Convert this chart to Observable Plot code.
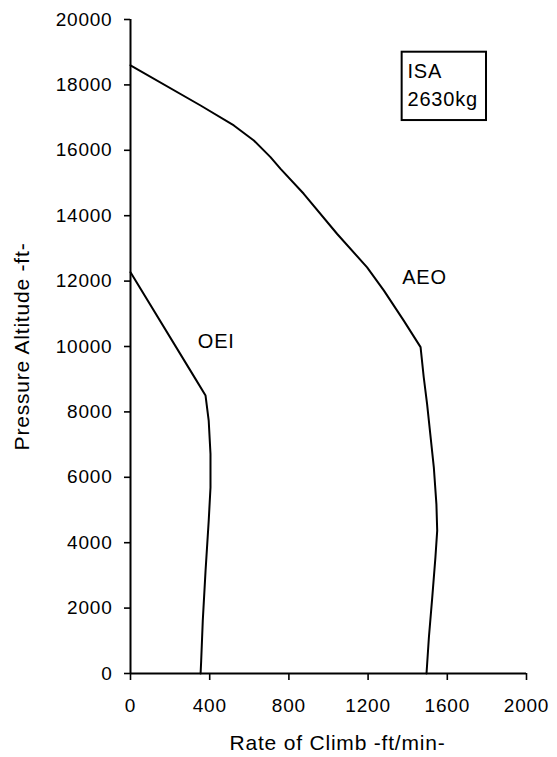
<!DOCTYPE html>
<html>
<head>
<meta charset="utf-8">
<script src="https://cdn.jsdelivr.net/npm/d3@7"></script>
<script src="https://cdn.jsdelivr.net/npm/@observablehq/plot@0.6"></script>
<style>
  html, body { margin: 0; padding: 0; background: #fff; }
  #chart svg text { letter-spacing: 0.8px; }
</style>
</head>
<body>
<div id="chart"></div>
<script>
// Rate of climb (ft/min) against pressure altitude (ft), all engines operating
const aeoRoc = [0, 354, 522, 623, 707, 758, 875, 1044, 1195, 1280, 1380, 1465, 1481, 1498, 1532, 1545, 1549, 1540, 1524, 1507, 1495];
const aeoAlt = [18600, 17370, 16760, 16300, 15790, 15430, 14670, 13440, 12420, 11710, 10790, 9980, 9060, 8240, 6300, 5180, 4370, 3550, 2330, 1100, 0];

// One engine inoperative
const oeiRoc = [0, 328, 379, 395, 404, 404, 395, 379, 365, 357, 354];
const oeiAlt = [12270, 9010, 8500, 7730, 6710, 5690, 4670, 3140, 1610, 390, 0];

// Axis ticks
const xTicks = [0, 400, 800, 1200, 1600, 2000];
const yTicks = [0, 2000, 4000, 6000, 8000, 10000, 12000, 14000, 16000, 18000, 20000];

// Axis titles
const xTitle = "Rate of Climb -ft/min-";
const yTitle = "Pressure Altitude -ft-";

// Curve labels
const curveLabels = ["OEI", "AEO"];
const curveLabelRoc = [433, 1485];
const curveLabelAlt = [10155, 12107];

// Conditions box
const boxLines = ["ISA", "2630kg"];
const boxLineRoc = [1399, 1399];
const boxLineAlt = [18410, 17550];
const boxRoc = [1372, 1798];
const boxAlt = [16910, 19000];

const aeo = aeoRoc.map((r, i) => ({roc: r, alt: aeoAlt[i]}));
const oei = oeiRoc.map((r, i) => ({roc: r, alt: oeiAlt[i]}));
const labels = curveLabels.map((t, i) => ({text: t, roc: curveLabelRoc[i], alt: curveLabelAlt[i]}));
const box = [{x1: boxRoc[0], x2: boxRoc[1], y1: boxAlt[0], y2: boxAlt[1]}];
const boxText = boxLines.map((t, i) => ({text: t, roc: boxLineRoc[i], alt: boxLineAlt[i]}));

const plain = d3.format("d");

const chart = Plot.plot({
  width: 557,
  height: 757,
  marginLeft: 130,
  marginRight: 31,
  marginTop: 19,
  marginBottom: 84,
  style: {fontFamily: "'Liberation Sans', Arial, sans-serif", color: "#000", background: "#fff"},
  x: {domain: [0, 2000]},
  y: {domain: [0, 20000]},
  marks: [
    Plot.axisX(xTicks, {tickSize: 7, tickPadding: 18, fontSize: 19, strokeWidth: 1.6, tickFormat: plain, label: null}),
    Plot.axisY(yTicks, {tickSize: 6, tickPadding: 12, fontSize: 19, strokeWidth: 1.6, tickFormat: plain, label: null}),
    Plot.ruleX([0], {strokeWidth: 2}),
    Plot.ruleY([0], {strokeWidth: 2}),
    Plot.line(aeo, {x: "roc", y: "alt", stroke: "#000", strokeWidth: 2, strokeLinejoin: "round"}),
    Plot.line(oei, {x: "roc", y: "alt", stroke: "#000", strokeWidth: 2, strokeLinejoin: "round"}),
    Plot.text(labels, {x: "roc", y: "alt", text: "text", fontSize: 20, fill: "#000"}),
    Plot.rect(box, {x1: "x1", x2: "x2", y1: "y1", y2: "y2", fill: "#fff", stroke: "#000", strokeWidth: 2}),
    Plot.text(boxText, {x: "roc", y: "alt", text: "text", textAnchor: "start", fontSize: 20, fill: "#000"}),
    Plot.text([xTitle], {frameAnchor: "bottom", textAnchor: "middle", lineAnchor: "middle", dx: 9, dy: 70, fontSize: 21, fill: "#000"}),
    Plot.text([yTitle], {frameAnchor: "left", textAnchor: "middle", lineAnchor: "middle", dx: -108, rotate: -90, fontSize: 21, fill: "#000"})
  ]
});

document.getElementById("chart").appendChild(chart);
</script>
</body>
</html>
